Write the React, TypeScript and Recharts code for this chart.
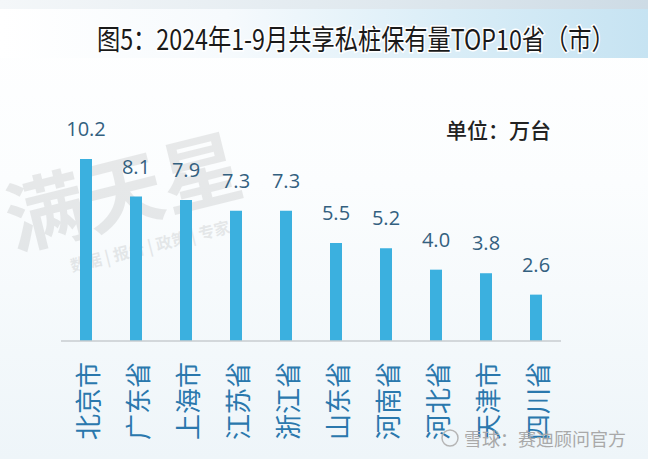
import React from 'react';
import { BarChart, Bar, XAxis, YAxis, LabelList } from 'recharts';

const categories = ['北京市', '广东省', '上海市', '江苏省', '浙江省', '山东省', '河南省', '河北省', '天津市', '四川省'];
const values = [10.2, 8.1, 7.9, 7.3, 7.3, 5.5, 5.2, 4.0, 3.8, 2.6];
const titleText = '图5：2024年1-9月共享私桩保有量TOP10省（市）';
const unitText = '单位：万台';
const sourceText = '雪球：赛迪顾问官方';

const data = categories.map((name, i) => ({ name, value: values[i] }));

const CJK = '"Noto Sans CJK SC", "Noto Sans", sans-serif';

const XTick = (props: any) => {
  const { x, y, payload } = props;
  const ay = y + 13;
  return (
    <text
      x={x}
      y={ay}
      transform={`rotate(-90 ${x} ${ay})`}
      textAnchor="end"
      dominantBaseline="central"
      fill="#2a78ad"
      fontSize={26}
      fontFamily={CJK}
    >
      {payload.value}
    </text>
  );
};

export default function App() {
  return (
    <div
      style={{
        position: 'absolute',
        left: 0,
        top: 0,
        width: 648,
        height: 459,
        overflow: 'hidden',
        background: 'linear-gradient(to bottom, #ffffff 0%, #fbfdfe 40%, #eef5f9 100%)',
      }}
    >
      <div
        style={{
          position: 'absolute',
          left: 0,
          top: 0,
          width: 648,
          height: 58,
          background: 'linear-gradient(to right, #ffffff 0%, #f6fafd 35%, #d9edf7 70%, #c6e3f2 100%)',
        }}
      />
      <div
        style={{
          position: 'absolute',
          left: 0,
          top: 0,
          width: 648,
          height: 9,
          background: 'linear-gradient(to right, #f4f7f9 0%, #dfe8ee 60%, #cddbe5 100%)',
        }}
      />
      <svg width={648} height={459} style={{ position: 'absolute', left: 0, top: 0 }}>
        <g opacity={0.08} fill="#000" fontFamily={CJK} fontWeight={700}>
          <text x={14} y={250} fontSize={80} transform="rotate(-14 14 250)">满天星</text>
          <text x={72} y={272} fontSize={16} transform="rotate(-14 72 272)">数据 | 报告 | 政策 | 专家</text>
        </g>
      </svg>
      <div style={{ position: 'absolute', left: 0, top: 0 }}>
        <BarChart
          width={648}
          height={459}
          data={data}
          margin={{ top: 127, right: 87, bottom: 0, left: 61 }}
        >
          <YAxis hide domain={[0, 12]} />
          <XAxis
            dataKey="name"
            height={118}
            interval={0}
            tickLine={false}
            axisLine={{ stroke: '#c9cdd1', strokeWidth: 1.5 }}
            tick={<XTick />}
          />
          <Bar dataKey="value" fill="#3bb0df" barSize={12} isAnimationActive={false}>
            <LabelList
              dataKey="value"
              position="top"
              offset={23}
              formatter={(v: any) => Number(v).toFixed(1)}
              fill="#33607f"
              fontSize={20}
              fontFamily='"Open Sans", sans-serif'
            />
          </Bar>
        </BarChart>
      </div>
      <svg width={648} height={459} style={{ position: 'absolute', left: 0, top: 0, pointerEvents: 'none' }}>
        <g transform="translate(97 37) scale(0.83 1)">
          <text
            x={0}
            y={0}
            dominantBaseline="central"
            fontSize={28}
            fontFamily={CJK}
            fill="#1a1a1a"
            stroke="#ffffff"
            strokeWidth={3}
            paintOrder="stroke"
          >
            {titleText}
          </text>
        </g>
        <text x={446} y={129} dominantBaseline="central" fontSize={21} fontFamily={CJK} fill="#222" fontWeight={500}>
          {unitText}
        </text>
        <circle cx={450} cy={438} r={8} fill="none" stroke="#b5b5b5" strokeWidth={1.5} />
        <text
          x={464}
          y={438}
          dominantBaseline="central"
          fontSize={18}
          fontFamily={CJK}
          fill="#a9a9a9"
        >
          {sourceText}
        </text>
      </svg>
    </div>
  );
}
